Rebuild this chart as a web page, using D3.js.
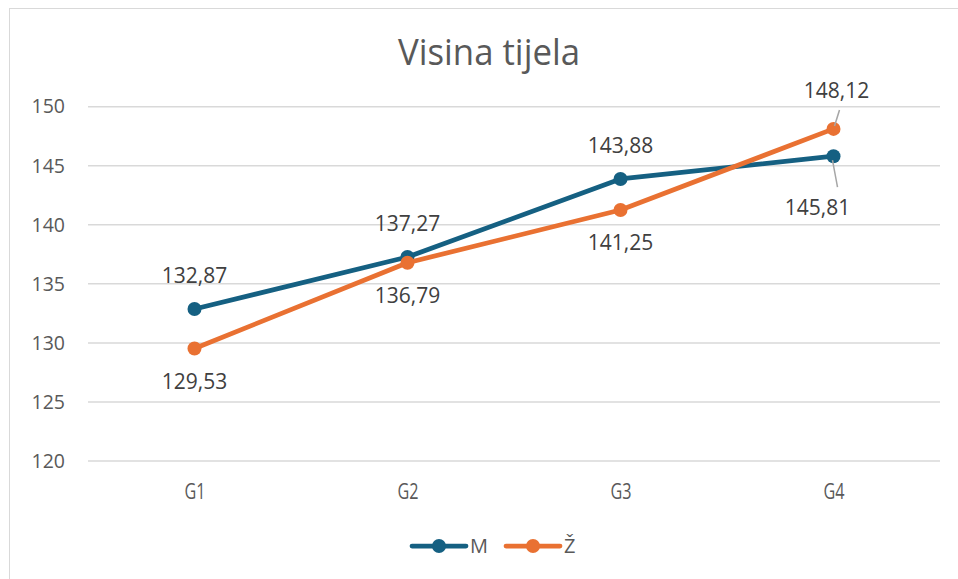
<!DOCTYPE html>
<html>
<head>
<meta charset="utf-8">
<script src="https://cdn.jsdelivr.net/npm/d3@7"></script>
<style>
  body { margin: 0; background: #fff; }
  svg { display: block; }
</style>
</head>
<body>
<div id="chart"></div>
<script>
  var width = 958, height = 579;

  var categories = ["G1", "G2", "G3", "G4"];
  var seriesNames = ["M", "Ž"];
  var valuesM = [132.87, 137.27, 143.88, 145.81];
  var valuesZ = [129.53, 136.79, 141.25, 148.12];
  var yTicks = [120, 125, 130, 135, 140, 145, 150];
  // label placement: -1 above, 1 below
  var placeM = [-1, -1, -1, 1];
  var placeZ = [1, 1, 1, -1];
  var colors = ["#156082", "#E97132"];

  var plot = { left: 88, right: 940, top: 106.7, bottom: 461 };

  var svg = d3.select("#chart").append("svg")
    .attr("width", width)
    .attr("height", height);

  // chart border
  svg.append("rect")
    .attr("x", 9.5).attr("y", 8.5)
    .attr("width", 960).attr("height", 580)
    .attr("fill", "none")
    .attr("stroke", "#d9d9d9")
    .attr("stroke-width", 1);

  var x = d3.scalePoint()
    .domain(categories)
    .range([plot.left, plot.right])
    .padding(0.5);

  var y = d3.scaleLinear()
    .domain([120, 150])
    .range([plot.bottom, plot.top]);

  // title (narrow look)
  svg.append("text")
    .attr("x", 489).attr("y", 65)
    .attr("text-anchor", "middle")
    .attr("textLength", 182)
    .attr("lengthAdjust", "spacingAndGlyphs")
    .style("font-family", "'Open Sans', 'Noto Sans', sans-serif")
    .style("font-size", "37px")
    .style("fill", "#595959")
    .text("Visina tijela");

  // gridlines
  svg.append("g")
    .selectAll("line").data(yTicks).enter().append("line")
    .attr("x1", plot.left).attr("x2", plot.right)
    .attr("y1", function(d) { return y(d); })
    .attr("y2", function(d) { return y(d); })
    .attr("stroke", "#d9d9d9")
    .attr("stroke-width", 1.5);

  // y axis
  var yAxis = svg.append("g")
    .attr("transform", "translate(" + (plot.left - 23) + ",0)")
    .call(d3.axisLeft(y).tickValues(yTicks).tickSize(0).tickPadding(0));
  yAxis.select(".domain").remove();
  yAxis.selectAll("text")
    .style("font-family", "'Open Sans', 'Noto Sans', sans-serif")
    .style("font-size", "19.5px")
    .style("fill", "#595959");

  // x axis
  var xAxis = svg.append("g")
    .attr("transform", "translate(0," + (plot.bottom + 22) + ")")
    .call(d3.axisBottom(x).tickSize(0).tickPadding(0));
  xAxis.select(".domain").remove();
  xAxis.selectAll("text")
    .attr("transform", "scale(0.72,1)")
    .style("font-family", "'Open Sans', 'Noto Sans', sans-serif")
    .style("font-size", "22.5px")
    .style("fill", "#595959");

  var line = d3.line()
    .x(function(d, i) { return x(categories[i]); })
    .y(function(d) { return y(d); });

  var series = [
    { name: seriesNames[0], values: valuesM, place: placeM, color: colors[0] },
    { name: seriesNames[1], values: valuesZ, place: placeZ, color: colors[1] }
  ];

  series.forEach(function(s) {
    svg.append("path")
      .datum(s.values)
      .attr("d", line)
      .attr("fill", "none")
      .attr("stroke", s.color)
      .attr("stroke-width", 4.75)
      .attr("stroke-linejoin", "round")
      .attr("stroke-linecap", "round");

    svg.append("g").selectAll("circle").data(s.values).enter().append("circle")
      .attr("cx", function(d, i) { return x(categories[i]); })
      .attr("cy", function(d) { return y(d); })
      .attr("r", 7)
      .attr("fill", s.color);
  });

  // data labels
  var fmt = function(v) { return d3.format(".2f")(v).replace(".", ","); };

  series.forEach(function(s, si) {
    s.values.forEach(function(v, i) {
      var px = x(categories[i]), py = y(v);
      var lx = px, ly = py + s.place[i] * 33;
      // G4 labels are pushed away with leader lines
      if (i === 3) {
        if (si === 0) { lx = px - 16; ly = py + 51; }
        else { lx = px + 3; ly = py - 38; }
        svg.append("line")
          .attr("x1", si === 0 ? px - 1 : px + 1)
          .attr("y1", si === 0 ? py + 4 : py - 3)
          .attr("x2", si === 0 ? px + 4 : px + 6)
          .attr("y2", si === 0 ? py + 31 : py - 19)
          .attr("stroke", "#a6a6a6")
          .attr("stroke-width", 1.5);
      }
      svg.append("text")
        .attr("x", lx).attr("y", ly)
        .attr("dy", "0.35em")
        .attr("text-anchor", "middle")
        .style("font-family", "'Open Sans', 'Noto Sans', sans-serif")
        .style("font-size", "21px")
        .style("fill", "#404040")
        .text(fmt(v));
    });
  });

  // legend
  var legend = svg.append("g").attr("transform", "translate(0,546)");
  var legendX = [410, 504];
  series.forEach(function(s, i) {
    var g = legend.append("g").attr("transform", "translate(" + legendX[i] + ",0)");
    g.append("line")
      .attr("x1", 2).attr("x2", 56)
      .attr("stroke", s.color)
      .attr("stroke-width", 4.75)
      .attr("stroke-linecap", "round");
    g.append("circle")
      .attr("cx", 29).attr("r", 7)
      .attr("fill", s.color);
    g.append("text")
      .attr("x", 60).attr("dy", "0.35em")
      .style("font-family", "'Open Sans', 'Noto Sans', sans-serif")
      .style("font-size", "20px")
      .style("fill", "#595959")
      .text(s.name);
  });
</script>
</body>
</html>
